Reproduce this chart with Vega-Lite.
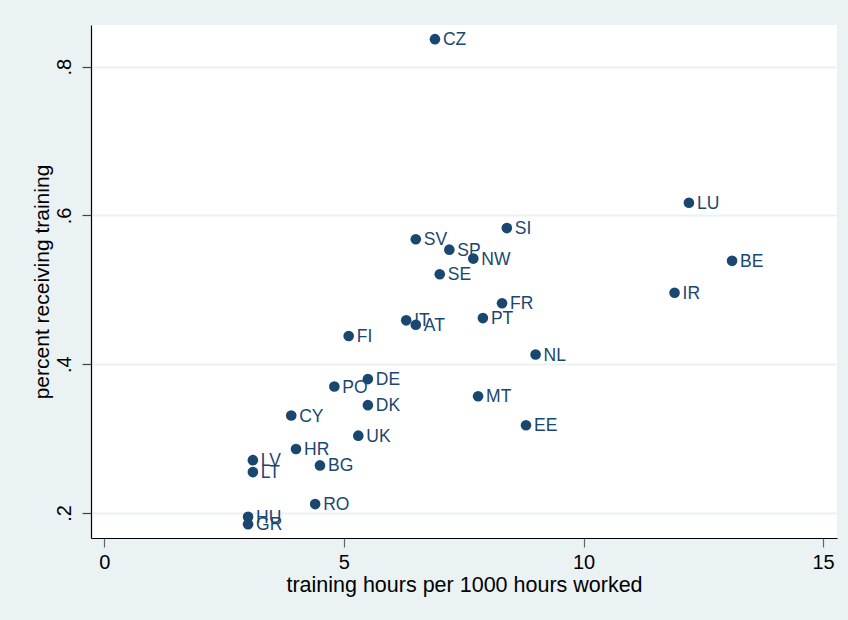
{
  "$schema": "https://vega.github.io/schema/vega-lite/v6.json",
  "width": 746,
  "height": 513,
  "autosize": {"type": "none"},
  "padding": {"left": 91, "top": 25, "right": 11, "bottom": 82},
  "background": "#EAF2F3",
  "config": {
    "view": {"fill": "white", "stroke": null},
    "font": "Liberation Sans"
  },
  "data": {
    "values": [
      {"country": "CZ", "hours": 6.9, "pct": 0.837},
      {"country": "LU", "hours": 12.2, "pct": 0.617},
      {"country": "SI", "hours": 8.4, "pct": 0.583},
      {"country": "SV", "hours": 6.5, "pct": 0.568},
      {"country": "SP", "hours": 7.2, "pct": 0.554},
      {"country": "NW", "hours": 7.7, "pct": 0.542},
      {"country": "BE", "hours": 13.1, "pct": 0.539},
      {"country": "SE", "hours": 7.0, "pct": 0.521},
      {"country": "FR", "hours": 8.3, "pct": 0.482},
      {"country": "IR", "hours": 11.9, "pct": 0.496},
      {"country": "PT", "hours": 7.9, "pct": 0.462},
      {"country": "IT", "hours": 6.3, "pct": 0.459},
      {"country": "AT", "hours": 6.5, "pct": 0.453},
      {"country": "FI", "hours": 5.1, "pct": 0.438},
      {"country": "NL", "hours": 9.0, "pct": 0.413},
      {"country": "DE", "hours": 5.5, "pct": 0.380},
      {"country": "PO", "hours": 4.8, "pct": 0.370},
      {"country": "MT", "hours": 7.8, "pct": 0.357},
      {"country": "DK", "hours": 5.5, "pct": 0.345},
      {"country": "CY", "hours": 3.9, "pct": 0.331},
      {"country": "EE", "hours": 8.8, "pct": 0.318},
      {"country": "UK", "hours": 5.3, "pct": 0.304},
      {"country": "HR", "hours": 4.0, "pct": 0.286},
      {"country": "LV", "hours": 3.1, "pct": 0.271},
      {"country": "BG", "hours": 4.5, "pct": 0.264},
      {"country": "LT", "hours": 3.1, "pct": 0.255},
      {"country": "RO", "hours": 4.4, "pct": 0.212},
      {"country": "HU", "hours": 3.0, "pct": 0.195},
      {"country": "GR", "hours": 3.0, "pct": 0.185}
    ]
  },
  "encoding": {
    "x": {
      "field": "hours",
      "type": "quantitative",
      "scale": {"domain": [-0.278, 15.29], "nice": false, "zero": false},
      "axis": {
        "values": [0, 5, 10, 15],
        "format": "d",
        "grid": false,
        "domainColor": "#000000",
        "domainWidth": 1.2,
        "tickColor": "#666666",
        "tickSize": 9,
        "tickWidth": 1.2,
        "labelFontSize": 20,
        "labelColor": "#000000",
        "labelPadding": 5,
        "title": "training hours per 1000 hours worked",
        "titleFontSize": 21.5,
        "titleFontWeight": "normal",
        "titleColor": "#000000",
        "titlePadding": 2
      }
    },
    "y": {
      "field": "pct",
      "type": "quantitative",
      "scale": {"domain": [0.1664, 0.856], "nice": false, "zero": false},
      "axis": {
        "values": [0.2, 0.4, 0.6, 0.8],
        "labelExpr": "slice(format(datum.value, '.1f'), 1)",
        "grid": true,
        "gridColor": "#EAF2F3",
        "gridWidth": 2,
        "domainColor": "#000000",
        "domainWidth": 1.2,
        "tickColor": "#444444",
        "tickSize": 9,
        "tickWidth": 1.2,
        "labelAngle": -90,
        "labelFontSize": 20,
        "labelColor": "#000000",
        "labelPadding": 8,
        "title": "percent receiving training",
        "titleFontSize": 21,
        "titleFontWeight": "normal",
        "titleColor": "#000000",
        "titlePadding": 2
      }
    }
  },
  "layer": [
    {
      "mark": {"type": "point", "filled": true, "size": 113, "color": "#1A476F", "opacity": 1}
    },
    {
      "mark": {"type": "text", "align": "left", "baseline": "middle", "dx": 8, "dy": 1, "fontSize": 17.5, "color": "#1A476F"},
      "encoding": {"text": {"field": "country"}}
    }
  ]
}
